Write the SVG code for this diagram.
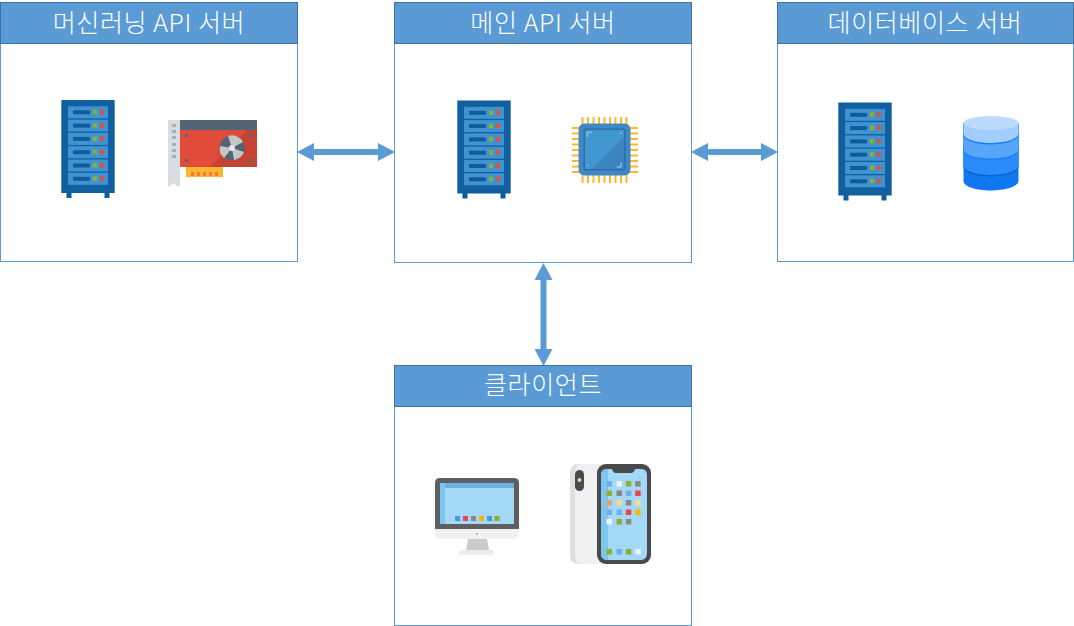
<svg xmlns="http://www.w3.org/2000/svg" xmlns:xlink="http://www.w3.org/1999/xlink" width="1074" height="626" viewBox="0 0 1074 626">
<style>
.panel{fill:#fff;stroke:#5b9bd5;stroke-width:1}
.head{fill:#5b9bd5;stroke:#41719c;stroke-width:1}
.title{font-family:"Noto Sans CJK KR","Noto Sans",sans-serif;font-size:25px;font-weight:300;letter-spacing:.6px;fill:#fff;text-anchor:middle}
.link{fill:none;stroke:#5b9bd5;stroke-width:6;marker-start:url(#ah);marker-end:url(#ah)}
</style>
<defs>
<marker id="ah" viewBox="0 0 17 18" refX="8" refY="9" markerWidth="17" markerHeight="18" markerUnits="userSpaceOnUse" orient="auto-start-reverse"><path d="M0 0L17 9L0 18Z" fill="#5b9bd5"/></marker>
<g id="row"><rect x="7" y="0" width="40" height="12" fill="#3f93d0"/><rect x="12" y="4" width="17" height="4" fill="#0f5c99"/><rect x="32" y="3.500" width="4" height="4.500" fill="#8cb02c"/><rect x="39" y="3.500" width="4" height="4.500" fill="#e2503a"/></g>
<g id="server">
<rect x="5.500" y="92" width="5" height="6" fill="#0f5c99"/><rect x="43.500" y="92" width="5" height="6" fill="#0f5c99"/>
<rect x="0.300" y="0" width="53.400" height="93" fill="#115f9e"/>
<use xlink:href="#row" y="6.300"/><use xlink:href="#row" y="19.600"/><use xlink:href="#row" y="32.900"/><use xlink:href="#row" y="46.200"/><use xlink:href="#row" y="59.500"/><use xlink:href="#row" y="72.800"/>
</g>
</defs>
<g id="connectors">
<path class="link" d="M306 152H386"/>
<path class="link" d="M700 152H769"/>
<path class="link" d="M543.500 272V357"/>
</g>
<g id="ml-server">
<rect class="panel" x="0.500" y="2.500" width="297" height="259"/>
<rect class="head" x="0.500" y="2.500" width="297" height="41"/>
<text class="title" x="149" y="32">머신러닝 API 서버</text>
<use xlink:href="#server" x="61" y="100"/>
<g id="gpu">
<path d="M168 120H180V186H176.500L174.500 183.500L172 183.500L170.500 186H168Z" fill="#d8dde1"/>
<g fill="#a9afb3"><rect x="172" y="124" width="4" height="3"/><rect x="172" y="130" width="4" height="3"/><rect x="172" y="136" width="4" height="3"/><rect x="172" y="143" width="4" height="3"/><rect x="172" y="149" width="4" height="3"/><rect x="172" y="155" width="4" height="3"/></g>
<rect x="180" y="120" width="77" height="10" fill="#536475"/>
<rect x="180" y="130" width="77" height="37" fill="#e14b39"/>
<path d="M210 167L247 130H257V167Z" fill="#c54332"/>
<rect x="186" y="167" width="37" height="10" fill="#fdb62f"/>
<g fill="#f4793b"><rect x="191" y="172" width="3" height="4"/><rect x="197" y="172" width="3" height="4"/><rect x="203" y="172" width="3" height="4"/><rect x="209" y="172" width="3" height="4"/><rect x="215" y="172" width="3" height="4"/></g>
<g fill="#536475"><rect x="185" y="134" width="3" height="3"/><rect x="249" y="134" width="3" height="3"/><rect x="185" y="159" width="3" height="3"/><rect x="249" y="159" width="3" height="3"/></g>
<circle cx="232" cy="148" r="12.500" fill="#536475"/>
<path d="M232 148L228 136A12.500 12.500 0 0 1 243 142Z M232 148L244 152A12.500 12.500 0 0 1 234 160Z M232 148L224 158A12.500 12.500 0 0 1 220 146Z" fill="#c3c7ca"/>
<circle cx="232" cy="148" r="3" fill="#e4e6e8"/>
</g>
</g>
<g id="main-server">
<rect class="panel" x="394.500" y="2.500" width="297" height="260"/>
<rect class="head" x="394.500" y="2.500" width="297" height="41"/>
<text class="title" x="543" y="32">메인 API 서버</text>
<use xlink:href="#server" x="457" y="100.500"/>
<g id="cpu">
<g fill="#fdb62f"><rect x="581.500" y="117" width="2" height="66"/><rect x="587" y="117" width="2" height="66"/><rect x="592.500" y="117" width="2" height="66"/><rect x="598" y="117" width="2" height="66"/><rect x="603.500" y="117" width="2" height="66"/><rect x="609" y="117" width="2" height="66"/><rect x="614.500" y="117" width="2" height="66"/><rect x="620" y="117" width="2" height="66"/><rect x="625.500" y="117" width="2" height="66"/>
<rect x="572" y="127" width="66" height="2"/><rect x="572" y="132.500" width="66" height="2"/><rect x="572" y="138" width="66" height="2"/><rect x="572" y="143.500" width="66" height="2"/><rect x="572" y="149" width="66" height="2"/><rect x="572" y="154.500" width="66" height="2"/><rect x="572" y="160" width="66" height="2"/><rect x="572" y="165.500" width="66" height="2"/><rect x="572" y="171" width="66" height="2"/></g>
<rect x="578.500" y="123.500" width="52" height="52" rx="6" fill="#3f88c8"/>
<rect x="583.500" y="128.500" width="42" height="42" rx="2" fill="#2f6fa8"/>
<rect x="585" y="130" width="39" height="39" fill="#4096cf"/>
<path d="M592 169L624 137V169Z" fill="#3b84bf"/>
<path d="M587.500 137V132.500H592M621 162.500V167H616.500" fill="none" stroke="#7cc0e4" stroke-width="1.500"/>
<circle cx="621" cy="133" r="1" fill="#7cc0e4"/><circle cx="588" cy="165.500" r="1" fill="#7cc0e4"/>
</g>
</g>
<g id="db-server">
<rect class="panel" x="777.500" y="2.500" width="296" height="259"/>
<rect class="head" x="777.500" y="2.500" width="296" height="41"/>
<text class="title" x="925" y="32">데이터베이스 서버</text>
<use xlink:href="#server" x="838" y="102.500"/>
<g id="db">
<path d="M963.500 123V181C963.500 186.500 976 190.500 991 190.500S1018.500 186.500 1018.500 181V123Z" fill="#0f78f0"/>
<path d="M963.500 123V167C963.500 172.500 976 176.500 991 176.500S1018.500 172.500 1018.500 167V123Z" fill="#0a62d0"/>
<path d="M963.500 123V165.500C963.500 171 976 175 991 175S1018.500 171 1018.500 165.500V123Z" fill="#2a8cfb"/>
<path d="M963.500 123V150.500C963.500 156 976 160 991 160S1018.500 156 1018.500 150.500V123Z" fill="#1a80f5"/>
<path d="M963.500 123V149C963.500 154.500 976 158.500 991 158.500S1018.500 154.500 1018.500 149V123Z" fill="#57a6fc"/>
<path d="M963.500 123V135C963.500 140.500 976 144.500 991 144.500S1018.500 140.500 1018.500 135V123Z" fill="#1a80f5"/>
<path d="M963.500 123V133.500C963.500 139 976 143 991 143S1018.500 139 1018.500 133.500V123Z" fill="#a3cdfd"/>
<ellipse cx="991" cy="123" rx="27.500" ry="7" fill="#bcdafe"/>
</g>
</g>
<g id="client">
<rect class="panel" x="394.500" y="365.500" width="297" height="260"/>
<rect class="head" x="394.500" y="365.500" width="297" height="41"/>
<text class="title" x="543" y="394">클라이언트</text>
<g id="monitor">
<path d="M468 539H487L489 550H466Z" fill="#c9cbcc"/>
<rect x="459" y="550" width="35" height="5" rx="2" fill="#eceded"/>
<path d="M435 529H519V533Q519 539 513 539H441Q435 539 435 533Z" fill="#f1f1f1"/>
<path d="M440 478H514Q519 478 519 483V529H435V483Q435 478 440 478Z" fill="#5f5f61"/>
<rect x="440" y="483" width="74" height="41" fill="#a3d9f7"/>
<rect x="440" y="483" width="74" height="5" fill="#6cb0e6"/>
<rect x="440" y="483" width="5" height="41" fill="#7cc5ee"/>
<g><rect x="455" y="516" width="5" height="5" fill="#4a9ad8"/><rect x="463" y="516" width="5" height="5" fill="#f0444b"/><rect x="471" y="516" width="5" height="5" fill="#888"/><rect x="479" y="516" width="5" height="5" fill="#fdb400"/><rect x="487" y="516" width="5" height="5" fill="#4a9ad8"/><rect x="494.500" y="516" width="5" height="5" fill="#8cb02c"/></g>
<circle cx="477" cy="534" r="1" fill="#aaa"/>
</g>
<g id="phone">
<rect x="570" y="464" width="45" height="100" rx="9" fill="#f0f0f0"/>
<path d="M579 464Q570 464 570 473V555Q570 564 579 564H582Q575 564 575 555V473Q575 464 582 464Z" fill="#dfdfdf"/>
<rect x="575" y="470" width="9" height="21" rx="4.500" fill="#4a4a4c"/>
<circle cx="579.500" cy="480" r="2" fill="#e8d68c"/>
<rect x="597" y="464" width="54" height="100" rx="9" fill="#4a4a4c"/>
<path d="M607 469H612Q613 473 616 473H631Q634 473 635 469H641Q647 469 647 475V553Q647 560 641 560H607Q601 560 601 553V475Q601 469 607 469Z" fill="#a3d9f7"/>
<path d="M607 469Q601 469 601 475V553Q601 560 607 560H608V469Z" fill="#7cc5ee"/>
<g>
<rect x="606.500" y="481" width="5.500" height="5.500" fill="#6cb0e6"/><rect x="616.500" y="481" width="5.500" height="5.500" fill="#f2f2f2"/><rect x="625.800" y="481" width="5.500" height="5.500" fill="#8cb02c"/><rect x="635.200" y="481" width="5.500" height="5.500" fill="#888"/>
<rect x="606.500" y="490.500" width="5.500" height="5.500" fill="#8cb02c"/><rect x="616.500" y="490.500" width="5.500" height="5.500" fill="#888"/><rect x="625.800" y="490.500" width="5.500" height="5.500" fill="#6cb0e6"/><rect x="635.200" y="490.500" width="5.500" height="5.500" fill="#f0444b"/>
<rect x="606.500" y="500" width="5.500" height="5.500" fill="#e0a468"/><rect x="616.500" y="500" width="5.500" height="5.500" fill="#fbd88f"/><rect x="625.800" y="500" width="5.500" height="5.500" fill="#888"/><rect x="635.200" y="500" width="5.500" height="5.500" fill="#fbd88f"/>
<rect x="606.500" y="509.500" width="5.500" height="5.500" fill="#6cb0e6"/><rect x="616.500" y="509.500" width="5.500" height="5.500" fill="#6cb0e6"/><rect x="625.800" y="509.500" width="5.500" height="5.500" fill="#f0444b"/><rect x="635.200" y="509.500" width="5.500" height="5.500" fill="#fdb400"/>
<rect x="606.500" y="519" width="5.500" height="5.500" fill="#f2f2f2"/><rect x="616.500" y="519" width="5.500" height="5.500" fill="#8cb02c"/><rect x="625.800" y="519" width="5.500" height="5.500" fill="#888"/>
<rect x="606.500" y="549" width="5.500" height="5.500" fill="#8cb02c"/><rect x="616.500" y="549" width="5.500" height="5.500" fill="#6cb0e6"/><rect x="625.800" y="549" width="5.500" height="5.500" fill="#8cb02c"/><rect x="635.200" y="549" width="5.500" height="5.500" fill="#f2f2f2"/>
</g>
</g>
</g>
</svg>
